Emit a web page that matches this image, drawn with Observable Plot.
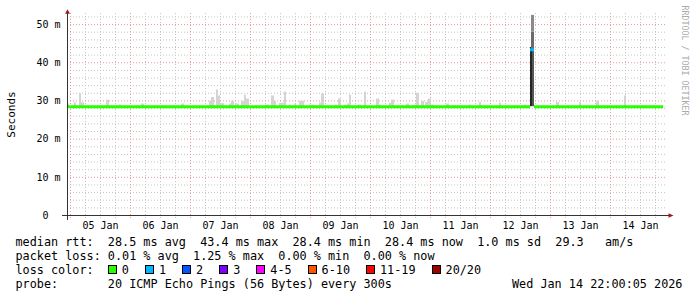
<!DOCTYPE html>
<html><head><meta charset="utf-8">
<script src="https://cdn.jsdelivr.net/npm/d3@7"></script>
<script src="https://cdn.jsdelivr.net/npm/@observablehq/plot@0.6"></script>
<style>
html,body{margin:0;padding:0;background:#fff;}
#chart{position:relative;width:697px;height:297px;overflow:hidden;background:#fff;}
#chart svg{display:block;}
#legend{position:absolute;left:15.5px;top:234.5px;font-family:"DejaVu Sans Mono",monospace;font-size:11.8px;line-height:14px;color:#000;white-space:pre;}
#legend div{height:14px;}
.sw{display:inline-block;width:9px;height:9px;border:1px solid #000;box-sizing:border-box;vertical-align:middle;margin-right:5px;position:relative;top:-1px;}
.item{margin-right:16px;}
#date{position:absolute;left:512px;top:276.5px;font-family:"DejaVu Sans Mono",monospace;font-size:11.8px;line-height:14px;white-space:pre;}
</style></head>
<body><div id="chart"><div id="legend"></div><div id="date"></div></div>
<script>
// ---- data ----
const smoke = [
 ["01-04T22:48","01-04T23:36",29.2],["01-05T01:36","01-05T02:24",29.5],["01-05T03:36","01-05T04:24",31.9],
 ["01-05T04:24","01-05T05:36",29.5],["01-05T14:24","01-05T15:36",30.2],["01-05T19:36","01-05T20:24",28.9],
 ["01-06T04:24","01-06T05:36",29.2],["01-06T20:24","01-06T21:36",29.2],["01-07T07:36","01-07T08:24",29.9],
 ["01-07T08:24","01-07T09:36",30.9],["01-07T10:24","01-07T11:12",32.9],["01-07T11:12","01-07T12:00",31.3],
 ["01-07T12:00","01-07T13:36",29.3],["01-07T15:36","01-07T16:24",29.2],["01-07T16:24","01-07T17:36",29.9],
 ["01-07T18:00","01-07T19:36",29.2],["01-07T20:24","01-07T21:36",29.9],["01-07T21:36","01-07T22:24",31.5],
 ["01-07T22:24","01-07T23:36",30.5],["01-08T06:00","01-08T07:36",28.9],["01-08T08:24","01-08T09:36",31.3],
 ["01-08T09:36","01-08T10:24",29.9],["01-08T11:36","01-08T13:36",29.4],["01-08T13:36","01-08T14:24",32.3],
 ["01-08T15:36","01-08T16:24",28.9],["01-08T17:36","01-08T18:24",29.2],["01-08T19:36","01-08T21:36",29.9],
 ["01-08T23:36","01-09T01:36",28.9],["01-09T03:36","01-09T04:24",29.4],["01-09T04:24","01-09T05:36",31.8],
 ["01-09T10:00","01-09T10:48",28.9],["01-09T11:12","01-09T12:24",30.5],["01-09T13:36","01-09T14:48",28.9],
 ["01-09T14:48","01-09T15:36",29.2],["01-09T15:36","01-09T16:24",31.5],["01-09T19:12","01-09T20:24",28.9],
 ["01-09T21:36","01-09T22:24",32.3],["01-10T02:24","01-10T03:36",30.5],["01-10T03:36","01-10T04:24",28.9],
 ["01-10T07:36","01-10T08:24",29.4],["01-10T08:24","01-10T09:36",30.2],["01-10T14:24","01-10T15:36",29.2],
 ["01-10T17:36","01-10T18:24",28.9],["01-10T18:24","01-10T19:36",32.0],["01-10T20:24","01-10T21:36",29.9],
 ["01-10T22:00","01-10T23:12",29.6],["01-10T23:12","01-11T00:24",30.5],["01-11T00:24","01-11T01:36",28.9],
 ["01-11T06:24","01-11T07:36",29.2],["01-11T15:36","01-11T16:24",28.9],["01-11T19:36","01-11T20:24",29.6],
 ["01-12T03:36","01-12T04:24",29.4],["01-12T13:36","01-12T14:24",28.9],["01-13T02:24","01-13T03:36",29.6],
 ["01-13T11:36","01-13T12:24",29.6],["01-13T18:24","01-13T19:36",29.9],["01-14T05:36","01-14T06:24",31.3]
];
// spike smoke layers: start, end, low, high, shade
const spike = [
 ["01-12T16:00","01-12T16:48",28.5,44.0,"#262626"],
 ["01-12T16:48","01-12T17:36",28.5,43.4,"#555555"],
 ["01-12T16:24","01-12T17:36",43.4,48.0,"#6a6a6a"],
 ["01-12T16:24","01-12T17:36",48.0,52.4,"#8a8a8a"]
];
// median rtt segments: start, end, median (ms), loss category index
const median = [
 ["01-04T22:48","01-12T16:00",28.5,0],
 ["01-12T16:00","01-12T17:36",43.4,1],
 ["01-12T17:36","01-14T21:12",28.5,0]
];
const lossLabels = ["0","1","2","3","4-5","6-10","11-19","20/20"];
const lossColors = ["#26ff00","#00b8ff","#0059ff","#7e00ff","#ff00ff","#ff5500","#ff0000","#a10000"];
const yTicks = [0,10,20,30,40,50];
const rttValues = [28.5,43.4,28.4,28.4,1.0];
const rttNames = ["avg","max","min","now","sd"];
const ampsValue = 29.3;
const lossValues = [0.01,1.25,0.00,0.00];
const lossNames = ["avg","max","min","now"];
const probeText = "20 ICMP Echo Pings (56 Bytes) every 300s";
const dateText = "Wed Jan 14 22:00:05 2026";

// ---- chart ----
const T = s => new Date("2026-" + s + ":00Z");
const xDomain = [T("01-04T22:48"), T("01-14T22:48")];
const yDomain = [0, 52.9];
const dayLines = d3.utcDay.range(xDomain[0], xDomain[1]);
const hourLines = d3.utcHour.every(6).range(xDomain[0], xDomain[1]).filter(d => d.getUTCHours() !== 0);
const dayTicks = dayLines.map(d => d3.utcHour.offset(d, 12));
const yMinor = d3.range(2, 53, 2).filter(v => v % 10 !== 0);
const yMajor = yTicks.filter(v => v > 0);

const arrowRight = {draw(ctx, size){ const r = Math.sqrt(size/Math.PI); ctx.moveTo(r*1.15,0); ctx.lineTo(-r*1.15,-r); ctx.lineTo(-r*1.15,r); ctx.closePath(); }};
const arrowUp = {draw(ctx, size){ const r = Math.sqrt(size/Math.PI); ctx.moveTo(0,-r*1.1); ctx.lineTo(r*1.1,r*1.0); ctx.lineTo(-r*1.1,r*1.0); ctx.closePath(); }};

const grayGrid = "#c4c4c4", redGrid = "#e49a9a";
const chart = Plot.plot({
  width: 697, height: 235,
  marginLeft: 67, marginRight: 30, marginTop: 13, marginBottom: 20,
  x: {type: "utc", domain: xDomain},
  y: {domain: yDomain},
  color: {type: "identity"},
  style: {fontFamily: "DejaVu Sans Mono", fontSize: "10px", background: "#fff", color: "#000", overflow: "visible"},
  marks: [
    Plot.ruleY(yMinor, {stroke: grayGrid, strokeDasharray: "1,2"}),
    Plot.ruleX(hourLines, {stroke: grayGrid, strokeDasharray: "1,2", y1: -0.8, y2: yDomain[1]}),
    Plot.ruleY(yMajor, {stroke: redGrid, strokeDasharray: "1,2"}),
    Plot.ruleX(dayLines, {stroke: redGrid, strokeDasharray: "1,2", y1: -0.8, y2: yDomain[1]}),
    Plot.rect(smoke, {x1: d => T(d[0]), x2: d => T(d[1]), y1: d => 28.5, y2: d => d[2], fill: "#d4d4d4"}),
    Plot.rect(spike, {x1: d => T(d[0]), x2: d => T(d[1]), y1: d => d[2], y2: d => d[3], fill: d => d[4]}),
    Plot.ruleY(median, {x1: d => T(d[0]), x2: d => T(d[1]), y: d => d[2], stroke: d => lossColors[d[3]], strokeWidth: 3}),
    Plot.ruleY([0], {x1: () => T("01-04T20:48"), x2: () => T("01-15T00:00"), stroke: "#333"}),
    Plot.ruleX([xDomain[0]], {y1: -1.3, y2: yDomain[1], stroke: "#333"}),
    Plot.dot([0], {x: () => T("01-15T00:12"), y: 0, symbol: arrowRight, r: 2.2, fill: "#9b1c1c", stroke: "none"}),
    Plot.dot([0], {x: () => xDomain[0], y: 53.4, symbol: arrowUp, r: 2.2, fill: "#9b1c1c", stroke: "none"}),
    Plot.axisY({ticks: yTicks, tickSize: 0, tickPadding: 7, label: null, tickFormat: v => v === 0 ? "0\u00a0\u00a0" : v + " m"}),
    Plot.axisX({ticks: dayTicks, tickSize: 0, tickPadding: 6, label: null, tickFormat: d3.utcFormat("%d %b")}),
    Plot.text(["Seconds"], {frameAnchor: "left", textAnchor: "middle", lineAnchor: "middle", dx: -56.5, rotate: -90, fontSize: 11}),
    Plot.text(["RRDTOOL / TOBI OETIKER"], {frameAnchor: "top-right", textAnchor: "start", rotate: 90, dx: 20.5, dy: -8, fontSize: 8.3, fill: "#aaa"})
  ]
});
const root = document.getElementById("chart");
root.insertBefore(chart, root.firstChild);

// ---- legend ----
const legend = document.getElementById("legend");
const l1 = document.createElement("div");
l1.textContent = "median rtt:  " + rttValues.map((v, i) => v.toFixed(1) + " ms " + rttNames[i]).join("  ") + "  " + ampsValue.toFixed(1) + "   am/s";
const l2 = document.createElement("div");
l2.textContent = "packet loss: " + lossValues.map((v, i) => v.toFixed(2) + " % " + lossNames[i]).join("  ");
const l3 = document.createElement("div");
l3.appendChild(document.createTextNode("loss color:  "));
lossLabels.forEach((lab, i) => {
  const it = document.createElement("span"); it.className = "item";
  const sw = document.createElement("span"); sw.className = "sw"; sw.style.background = lossColors[i];
  it.appendChild(sw); it.appendChild(document.createTextNode(lab));
  l3.appendChild(it);
});
const l4 = document.createElement("div");
l4.textContent = "probe:       " + probeText;
[l1, l2, l3, l4].forEach(d => legend.appendChild(d));
document.getElementById("date").textContent = dateText;
</script></body></html>
